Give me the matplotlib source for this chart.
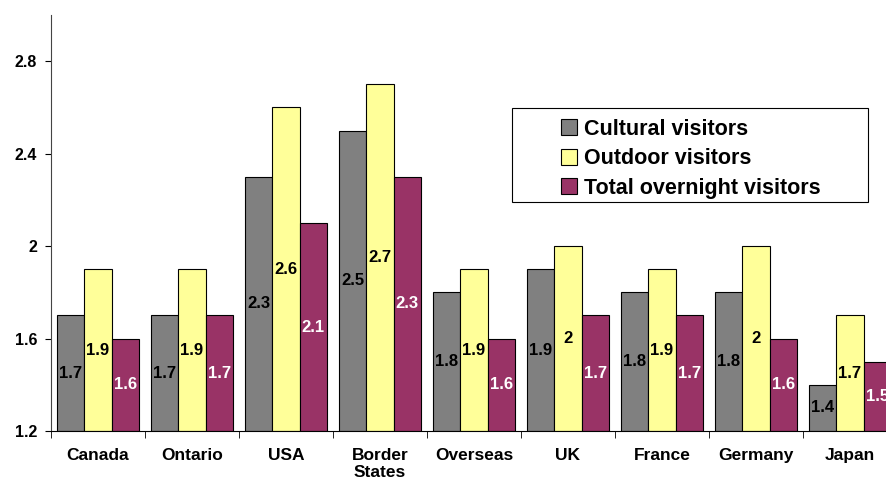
import matplotlib.pyplot as plt
import numpy as np
from matplotlib.patches import Rectangle

plt.rcParams['font.family'] = ['Liberation Sans', 'DejaVu Sans']

# data
categories = ['Canada', 'Ontario', 'USA', 'Border\nStates', 'Overseas', 'UK', 'France', 'Germany', 'Japan']
cultural = [1.7, 1.7, 2.3, 2.5, 1.8, 1.9, 1.8, 1.8, 1.4]
outdoor = [1.9, 1.9, 2.6, 2.7, 1.9, 2.0, 1.9, 2.0, 1.7]
total = [1.6, 1.7, 2.1, 2.3, 1.6, 1.7, 1.7, 1.6, 1.5]
series_names = ['Cultural visitors', 'Outdoor visitors', 'Total overnight visitors']
colors = ['#808080', '#FFFF99', '#993366']
label_colors = ['black', 'black', 'white']

fig = plt.figure(figsize=(8.87, 4.8), dpi=100)
# axes deliberately runs off the right edge, like the original
ax = fig.add_axes([51/887, 49/480, 846/887, 416/480])

x = np.arange(len(categories))
w = 0.29
base = 1.2
handles = []
for i, (vals, col, lc) in enumerate(zip([cultural, outdoor, total], colors, label_colors)):
    pos = x + (i - 1) * w
    heights = [v - base for v in vals]
    b = ax.bar(pos, heights, w, bottom=base, color=col, edgecolor='black', linewidth=0.8, label=series_names[i])
    handles.append(b)
    for p, v in zip(pos, vals):
        ax.text(p, base + (v - base) / 2, f'{v:g}', ha='center', va='center',
                fontsize=12, fontweight='bold', color=lc)

ax.set_ylim(1.2, 3.0)
ax.set_xlim(-0.5, len(categories) - 0.5)
ax.set_yticks([1.2, 1.6, 2.0, 2.4, 2.8])
ax.set_yticklabels(['1.2', '1.6', '2', '2.4', '2.8'], fontsize=11.5, fontweight='bold')

ax.set_xticks(x)
ax.set_xticklabels(categories, fontsize=12.5, fontweight='bold')
ax.tick_params(axis='x', length=0, pad=12)
ax.set_xticks(np.arange(len(categories)) - 0.5, minor=True)
ax.tick_params(axis='x', which='minor', length=5, direction='out')
ax.tick_params(axis='y', length=4, direction='out', width=0.8, pad=6)

ax.spines['top'].set_visible(False)
ax.spines['right'].set_visible(False)
ax.spines['left'].set_color('#444444')

# legend box
fig.patches.append(Rectangle((512/887, (480-202)/480), 356/887, 94/480,
                             transform=fig.transFigure, facecolor='white',
                             edgecolor='black', linewidth=0.8, zorder=5))
leg = fig.legend(handles=handles, loc='upper left', bbox_to_anchor=(552/887, (480-110)/480),
                 frameon=False, prop={'weight': 'bold', 'size': 15.5},
                 handlelength=0.75, handleheight=0.75, handletextpad=0.35, labelspacing=0.4,
                 borderaxespad=0)
leg.set_zorder(6)

fig.savefig('out.png', dpi=100)
